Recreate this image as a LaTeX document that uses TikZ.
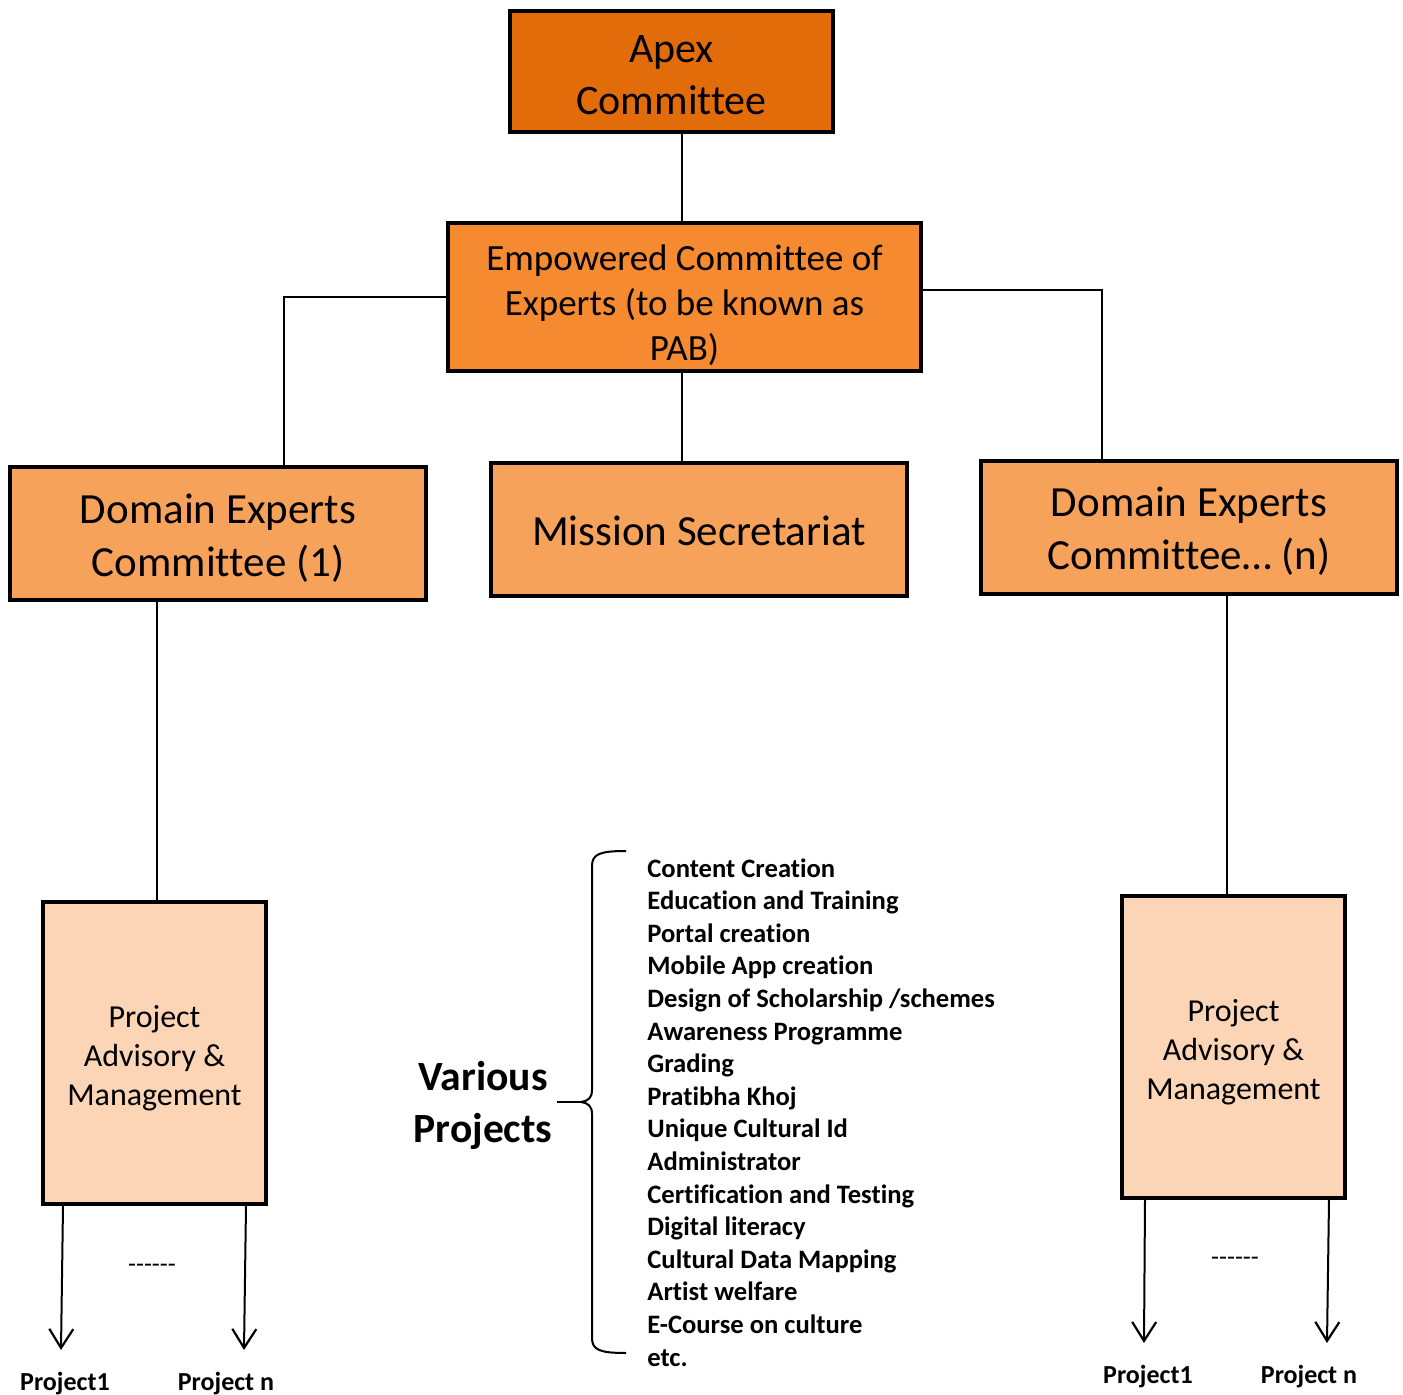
\documentclass[tikz,border=0pt]{standalone}
\usepackage{fontspec}
\setmainfont{Carlito}[Ligatures={TeX,NoCommon},RawFeature={-liga;-clig;-dlig}]
\usetikzlibrary{arrows.meta}
\definecolor{apexc}{HTML}{E36C0A}
\definecolor{empc}{HTML}{F58A31}
\definecolor{domc}{HTML}{F6A25B}
\definecolor{pamc}{HTML}{FBD5B5}
\begin{document}
\begin{tikzpicture}[x=0.5pt,y=-0.5pt,
  box/.style={draw=black, line width=2pt, inner sep=0pt},
  boxtext/.style={align=center, inner sep=0pt, text=black},
  apexbox/.style={box, fill=apexc, minimum width=161.5pt, minimum height=60.5pt},
  apextext/.style={boxtext, font=\fontsize{21pt}{26pt}\selectfont},
  empbox/.style={box, fill=empc, minimum width=236.5pt, minimum height=74pt},
  emptext/.style={boxtext, font=\fontsize{18.5pt}{22.5pt}\selectfont},
  dombox/.style={box, fill=domc, minimum width=208pt, minimum height=66.5pt},
  domtext/.style={boxtext, font=\fontsize{21.5pt}{26.5pt}\selectfont},
  pambox/.style={box, fill=pamc, minimum width=111.5pt, minimum height=151pt},
  pamtext/.style={boxtext, font=\fontsize{16pt}{19.5pt}\selectfont},
  conn/.style={draw=black, line width=0.8pt},
  arr/.style={draw=black, line width=1pt, -{Straight Barb[length=9.5pt,width=12pt,line width=1.1pt]}},
  projlbl/.style={font=\bfseries\fontsize{13pt}{15pt}\selectfont, inner sep=0pt},
  dashlbl/.style={font=\fontsize{13pt}{15pt}\selectfont, inner sep=0pt},
  itemlbl/.style={font=\bfseries\fontsize{13.3pt}{16.3pt}\selectfont, inner sep=0pt, anchor=base west},
]
\useasboundingbox (0,0) rectangle (1403,1395);

% boxes
\node[apexbox] (apex) at (671.5,71.5) {};
\node[apextext] (apexT) at ([yshift=-2pt]apex.center) {Apex\\Committee};
\node[empbox] (emp) at (684.5,297) {};
\node[emptext] (empT) at ([yshift=-4pt]emp.center) {Empowered Committee of\\Experts (to be known as\\PAB)};
\node[dombox] (d1) at (218,533.5) {};
\node[domtext] (d1T) at ([yshift=-2.5pt]d1.center) {Domain Experts\\Committee (1)};
\node[dombox] (ms) at (699,529.5) {};
\node[domtext] (msT) at ([yshift=-0.5pt]ms.center) {Mission Secretariat};
\node[dombox] (dn) at (1189,527.5) {};
\node[domtext] (dnT) at ([yshift=-2pt]dn.center) {Domain Experts\\Committee\dots\ (n)};
\node[pambox] (pl) at (154.5,1053) {};
\node[pamtext] (plT) at ([yshift=-2.5pt]pl.center) {Project\\Advisory \&\\Management};
\node[pambox] (pr) at (1233.5,1047) {};
\node[pamtext] (prT) at ([yshift=-2.5pt]pr.center) {Project\\Advisory \&\\Management};

% connectors
\draw[conn] (apex.south -| 682,0) -- (emp.north -| 682,0);
\draw[conn] (emp.south -| 682,0) -- (ms.north -| 682,0);
\coordinate (lk) at (284,465);
\coordinate (rk) at (1102,459);
\draw[conn] (emp.west) -| (lk);
\draw[conn] (emp.east |- 0,290) -| (rk);
\draw[conn] (d1.south -| 157,0) -- (pl.north -| 157,0);
\draw[conn] (dn.south -| 1227,0) -- (pr.north -| 1227,0);

% project arrows left
\coordinate (la1) at (61,1350);
\coordinate (la2) at (244,1350);
\draw[arr] (pl.south -| 63,0) -- (la1);
\draw[arr] (pl.south -| 246,0) -- (la2);
\node[projlbl] (lp1) at (65,1384) {Project1};
\node[projlbl] (lpn) at (226,1384) {Project n};
\node[dashlbl] (ld) at (152,1268) {-{}-{}-{}-{}-{}-};

% project arrows right
\coordinate (ra1) at (1144,1343);
\coordinate (ra2) at (1327,1343);
\draw[arr] (pr.south -| 1145,0) -- (ra1);
\draw[arr] (pr.south -| 1329,0) -- (ra2);
\node[projlbl] (rp1) at (1148,1377) {Project1};
\node[projlbl] (rpn) at (1309,1377) {Project n};
\node[dashlbl] (rd) at (1235,1261) {-{}-{}-{}-{}-{}-};

% various projects
\node[font=\bfseries\fontsize{20.8pt}{26pt}\selectfont, align=center, inner sep=0pt] (vp) at (483,1105) {Various\\Projects};

% brace
\draw[line width=1pt] (626,851) .. controls (600,851) and (592,854) .. (592,866)
  -- (592,1090) .. controls (592,1098) and (588,1101) .. (581,1102)
  .. controls (588,1103) and (592,1106) .. (592,1114)
  -- (592,1338) .. controls (592,1350) and (600,1353) .. (626,1353);
\draw[line width=1pt] (557,1102) -- (581,1102);

% list
\foreach \t [count=\i] in {Content Creation, Education and Training, Portal creation,
  Mobile App creation, Design of Scholarship /schemes, Awareness Programme, Grading,
  Pratibha Khoj, Unique Cultural Id, Administrator, Certification and Testing,
  Digital literacy, Cultural Data Mapping, Artist welfare, E-Course on culture, etc.}
  \node[itemlbl] (item\i) at (647,{877+32.6*(\i-1)}) {\t};
\end{tikzpicture}
\end{document}
